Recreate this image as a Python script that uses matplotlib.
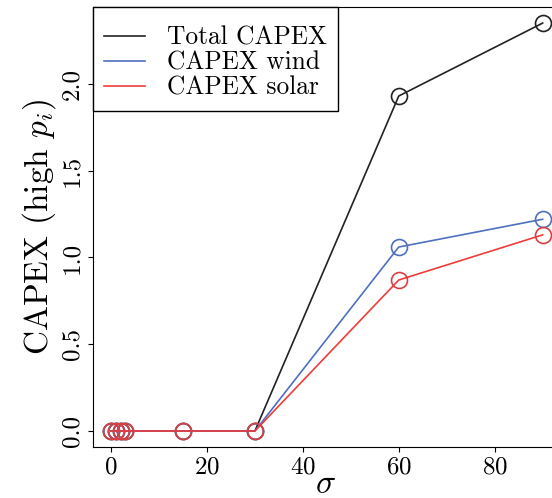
import matplotlib
matplotlib.use("Agg")
import matplotlib.pyplot as plt

plt.rcParams['font.family'] = 'serif'
plt.rcParams['font.serif'] = ['cmr10']
plt.rcParams['mathtext.fontset'] = 'cm'
plt.rcParams['axes.formatter.use_mathtext'] = True

# data
sigma = [0, 1, 2, 3, 15, 30, 60, 90]
capex_total = [0, 0, 0, 0, 0, 0, 1.93, 2.35]
capex_wind = [0, 0, 0, 0, 0, 0, 1.06, 1.22]
capex_solar = [0, 0, 0, 0, 0, 0, 0.87, 1.13]

fig = plt.figure(figsize=(5.52, 4.98), dpi=100)
ax = fig.add_axes([0.1685, 0.1024, 0.8406, 0.8826])

ax.plot(sigma, capex_total, color='#222222', lw=1.2, marker='o', ms=11.5,
        mfc='none', mec='#222222', mew=1.2, label='Total CAPEX')
ax.plot(sigma, capex_wind, color='#4f6fbf', lw=1.2, marker='o', ms=11.5,
        mfc='none', mec='#4f6fbf', mew=1.2, label='CAPEX wind')
ax.plot(sigma, capex_solar, color='#f03c3c', lw=1.2, marker='o', ms=11.5,
        mfc='none', mec='#d94040', mew=1.2, label='CAPEX solar')

ax.set_xlim(-3.75, 93)
ax.set_ylim(-0.092, 2.44)
ax.set_xticks([0, 20, 40, 60, 80])
ax.set_yticks([0.0, 0.5, 1.0, 1.5, 2.0])
ax.set_yticklabels(['0.0', '0.5', '1.0', '1.5', '2.0'], rotation=90, va='center')
ax.tick_params(labelsize=18)

ax.set_xlabel(r'$\sigma$', fontsize=24, labelpad=-6)
ax.set_ylabel(r'CAPEX (high $p_i$)', fontsize=24, labelpad=2)

# empty small title just pushes the entries down a bit
leg = ax.legend(loc='upper left', fontsize=18.3, fancybox=False, framealpha=1,
                edgecolor='black', borderaxespad=0, handlelength=1.6,
                handletextpad=0.85, labelspacing=0.05, borderpad=0.45,
                title=' ', title_fontsize=5)
for h in leg.legend_handles:
    h.set_marker('')

fig.savefig('out.png', dpi=100)
